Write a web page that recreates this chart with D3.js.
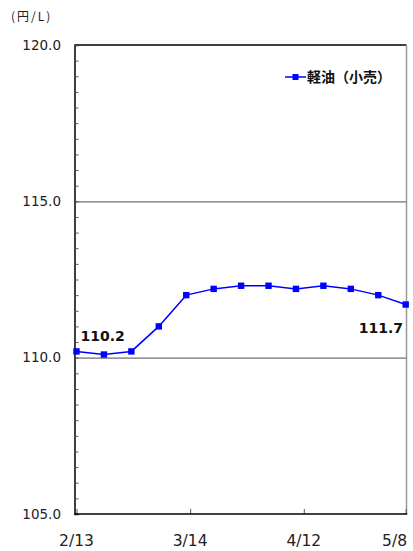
<!DOCTYPE html>
<html><head><meta charset="utf-8">
<script src="https://cdn.jsdelivr.net/npm/d3@7"></script>
<style>body{margin:0;background:#fff}svg{display:block}</style>
</head><body>
<svg id="c" width="413" height="551"></svg>
<script>
const dates = ["2023-02-13","2023-02-20","2023-02-27","2023-03-06","2023-03-13","2023-03-20","2023-03-27","2023-04-03","2023-04-10","2023-04-17","2023-04-24","2023-05-01","2023-05-08"];
const values = [110.2,110.1,110.2,111.0,112.0,112.2,112.3,112.3,112.2,112.3,112.2,112.0,111.7];
const xTickDates = ["2023-02-13","2023-03-14","2023-04-12","2023-05-08"];
const xTickLabels = ["2/13","3/14","4/12","5/8"];
const yTicks = [105,110,115,120];
const seriesName = "軽油（小売）";
const unitLabel = "(円/L)";

const parse = d3.timeParse("%Y-%m-%d");
const svg = d3.select("#c");
const L = 74.5, R = 406.5, T = 45, B = 514;
const x = d3.scaleTime().domain([parse(dates[0]), parse(dates[dates.length-1])]).range([76.5, 405.7]);
const y = d3.scaleLinear().domain([105,120]).range([B, T]);
const font = "'DejaVu Sans', 'Liberation Sans', sans-serif";

// gridlines
svg.append("g").selectAll("line").data([110,115]).join("line")
  .attr("x1", L).attr("x2", R).attr("y1", d=>y(d)+0.5).attr("y2", d=>y(d)+0.5)
  .attr("stroke", "#707070").attr("stroke-width", 1.3);

// frame: top black, right gray
svg.append("line").attr("x1", L).attr("x2", R).attr("y1", T).attr("y2", T).attr("stroke","#000").attr("stroke-width",1.5);
svg.append("line").attr("x1", R).attr("x2", R).attr("y1", T).attr("y2", B).attr("stroke","#999").attr("stroke-width",1.5);

// y axis with minor ticks inward
const yAxis = d3.axisRight(y).tickValues(d3.range(105, 120.01, 0.5)).tickSize(4).tickFormat("");
const ya = svg.append("g").attr("transform", `translate(${L},0)`).call(yAxis);
ya.select(".domain").attr("stroke","#000").attr("stroke-width",1.5);
ya.selectAll(".tick line").attr("stroke","#555");

// y labels
svg.append("g").selectAll("text").data(yTicks).join("text")
  .attr("x", 61).attr("y", d=>y(d)).attr("dy","0.35em").attr("text-anchor","end")
  .attr("font-family", font).attr("font-size", 13.5).attr("fill","#222")
  .text(d=>d.toFixed(1));

// x axis
const xAxis = d3.axisTop(x).tickValues(xTickDates.map(parse)).tickSize(5).tickFormat("");
const xa = svg.append("g").attr("transform", `translate(0,${B})`).call(xAxis);
xa.select(".domain").remove();
xa.selectAll(".tick line").attr("stroke","#555");
svg.append("line").attr("x1", L).attr("x2", R+0.75).attr("y1", B).attr("y2", B).attr("stroke","#000").attr("stroke-width",1.5);

svg.append("g").selectAll("text").data(xTickDates).join("text")
  .attr("x", (d,i)=> i===xTickDates.length-1 ? 407 : x(parse(d)))
  .attr("y", 546)
  .attr("text-anchor", (d,i)=> i===xTickDates.length-1 ? "end" : "middle")
  .attr("font-family", font).attr("font-size", 15.5).attr("fill","#222")
  .text((d,i)=>xTickLabels[i]);

// unit label
svg.append("text").attr("x", 11).attr("y", 21).attr("font-family","'Noto Sans CJK JP', sans-serif")
  .attr("font-size", 12).attr("letter-spacing", 2).attr("fill","#222").text(unitLabel);

// line
const data = dates.map((d,i)=>({d: parse(d), v: values[i]}));
svg.append("path").datum(data)
  .attr("d", d3.line().x(p=>x(p.d)).y(p=>y(p.v)))
  .attr("fill","none").attr("stroke","#0000ff").attr("stroke-width",1.5);
svg.append("g").selectAll("rect").data(data).join("rect")
  .attr("x", p=>x(p.d)-3.2).attr("y", p=>y(p.v)-3.2).attr("width",6.4).attr("height",6.4)
  .attr("fill","#0000ff");

// value labels
svg.append("text").attr("x", x(data[0].d)+4).attr("y", y(data[0].v)-10)
  .attr("font-family", font).attr("font-weight","bold").attr("font-size",14).attr("fill","#111")
  .text(values[0].toFixed(1));
svg.append("text").attr("x", 403).attr("y", y(data[12].v)+28).attr("text-anchor","end")
  .attr("font-family", font).attr("font-weight","bold").attr("font-size",14).attr("fill","#111")
  .text(values[12].toFixed(1));

// legend
const lg = svg.append("g");
lg.append("line").attr("x1",285).attr("x2",306).attr("y1",77).attr("y2",77).attr("stroke","#0000ff").attr("stroke-width",1.5);
lg.append("rect").attr("x",292.5).attr("y",74).attr("width",6).attr("height",6).attr("fill","#0000ff");
lg.append("text").attr("x",307).attr("y",82).attr("font-family","'Noto Sans CJK JP', sans-serif")
  .attr("font-weight","bold").attr("font-size",14).attr("fill","#111").text(seriesName);
</script>
</body></html>
